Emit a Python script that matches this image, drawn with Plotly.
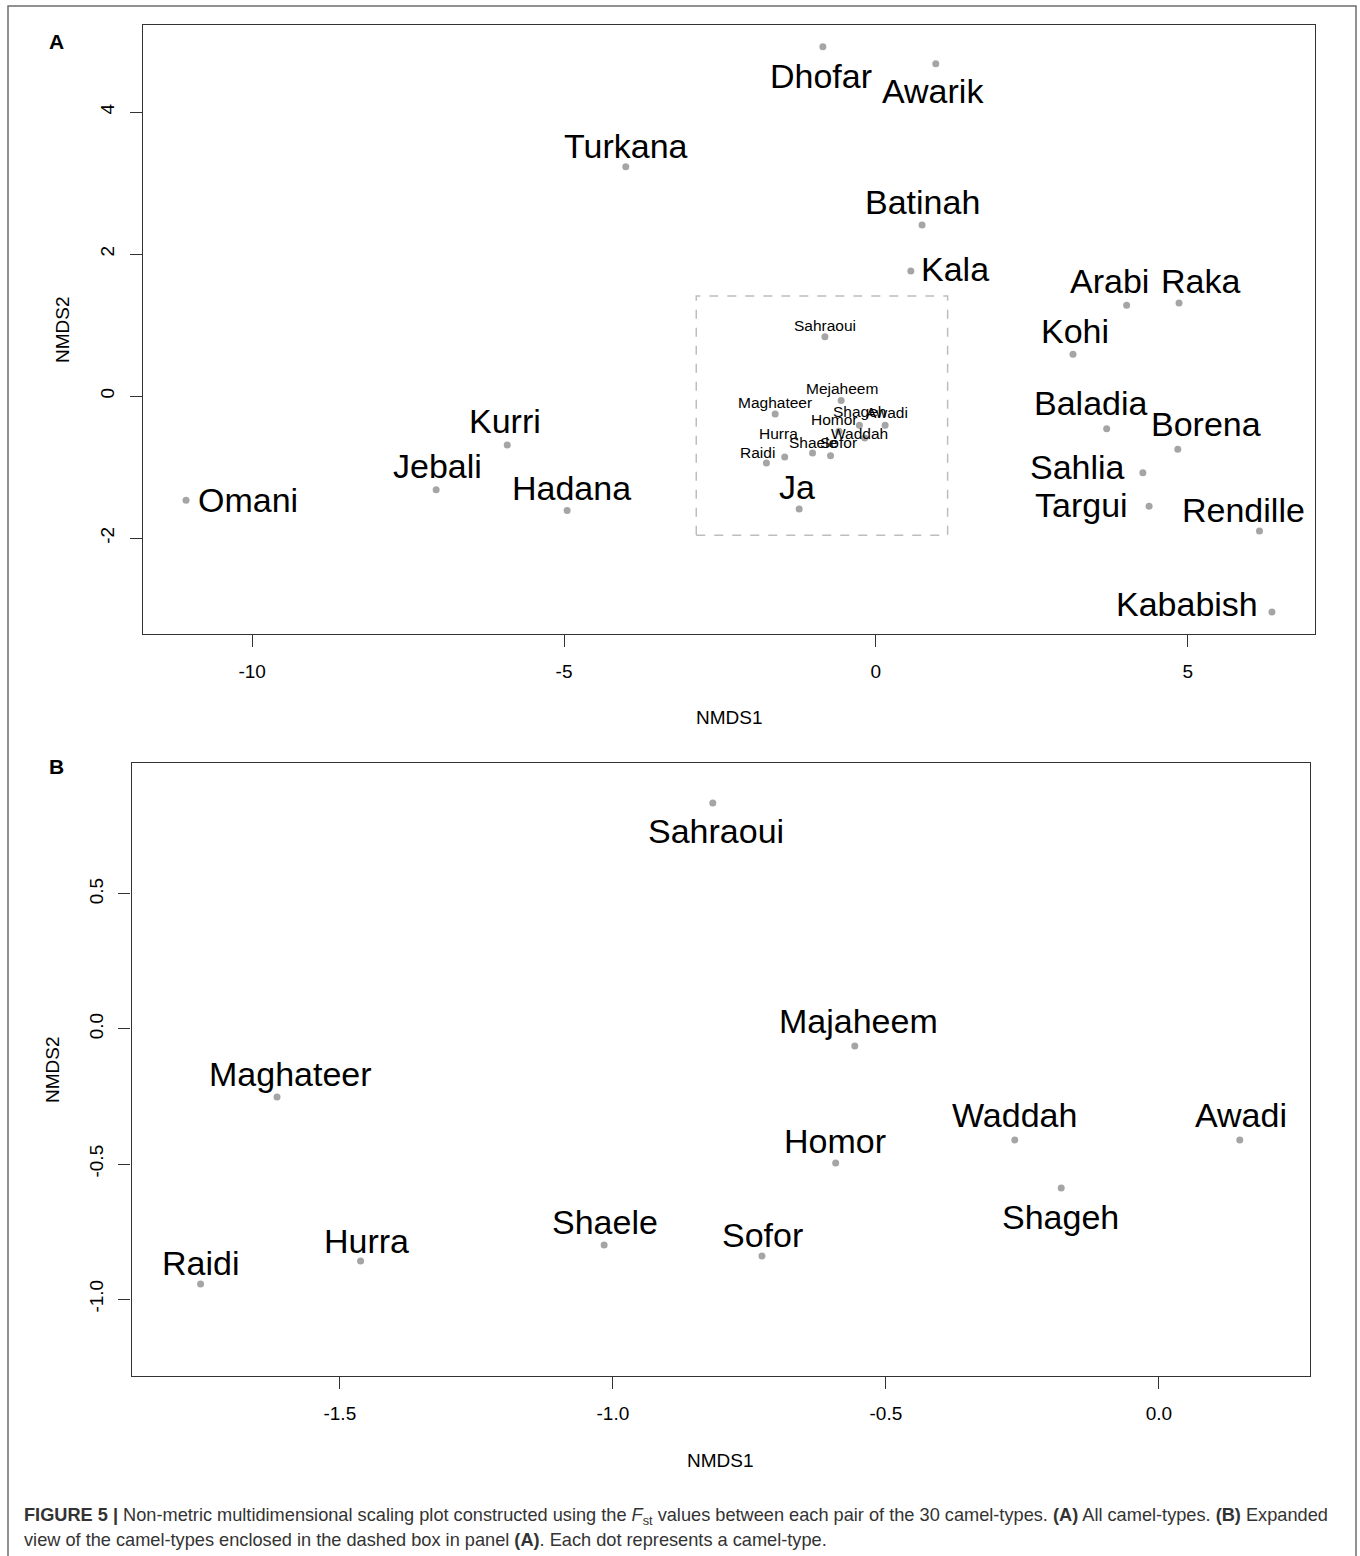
import plotly.graph_objects as go

# ---------------- DATA ----------------
# Panel A: camel-types outside the dashed box (NMDS1, NMDS2)
outer_names = ["Omani", "Jebali", "Kurri", "Hadana", "Turkana", "Dhofar", "Awarik",
               "Batinah", "Kala", "Arabi", "Raka", "Kohi", "Baladia", "Borena",
               "Sahlia", "Targui", "Rendille", "Kababish", "Ja"]
outer_x = [-11.06, -7.05, -5.91, -4.95, -4.01, -0.85, 0.96, 0.74, 0.56, 4.02, 4.86,
           3.16, 3.70, 4.84, 4.28, 4.38, 6.15, 6.35, -1.23]
outer_y = [-1.465, -1.32, -0.69, -1.61, 3.23, 4.92, 4.68, 2.41, 1.76, 1.28, 1.31,
           0.59, -0.46, -0.75, -1.08, -1.55, -1.90, -3.04, -1.59]

# Camel-types inside the dashed box (shown in both panels)
box_names_A = ["Sahraoui", "Mejaheem", "Maghateer", "Waddah", "Awadi", "Homor",
               "Shageh", "Shaele", "Sofor", "Hurra", "Raidi"]
box_names_B = ["Sahraoui", "Majaheem", "Maghateer", "Waddah", "Awadi", "Homor",
               "Shageh", "Shaele", "Sofor", "Hurra", "Raidi"]
box_x = [-0.817, -0.557, -1.615, -0.264, 0.148, -0.592, -0.179, -1.016, -0.727, -1.462, -1.755]
box_y = [0.837, -0.063, -0.252, -0.411, -0.411, -0.496, -0.589, -0.800, -0.841, -0.859, -0.944]

# Tick labels
a_xticks = [-10, -5, 0, 5]
a_xticklabels = ["-10", "-5", "0", "5"]
a_yticks = [-2, 0, 2, 4]
a_yticklabels = ["-2", "0", "2", "4"]
b_xticks = [-1.5, -1.0, -0.5, 0.0]
b_xticklabels = ["-1.5", "-1.0", "-0.5", "0.0"]
b_yticks = [-1.0, -0.5, 0.0, 0.5]
b_yticklabels = ["-1.0", "-0.5", "0.0", "0.5"]

# Dashed box extent (data units of panel A)
dash_box = [-2.88, 1.15, -1.96, 1.41]

# ---------------- LABEL PLACEMENT (pixel offsets) ----------------
outer_label_pos = [  # (xshift, yshift, xanchor)
    (11, 0, "left"), (1, 24, "center"), (-2, 24, "center"), (4, 22, "center"),
    (0, 21, "center"), (-2, -29, "center"), (-3, -27, "center"), (0, 23, "center"),
    (9, 2, "left"), (-17, 24, "center"), (21, 22, "center"), (2, 23, "center"),
    (-16, 26, "center"), (28, 25, "center"), (-17, 6, "right"), (-20, 1, "right"),
    (-16, 21, "center"), (-13, 8, "right"), (-2, 22, "center")]
box_label_pos_A = [(0, 11), (1, 12), (0, 11), (0, -8), (2, 13), (-4, 12),
                   (-5, 26), (0, 10), (8, 13), (-6, 24), (-9, 11)]
box_label_pos_B = [(3, -28), (4, 25), (13, 23), (0, 25), (1, 25), (-1, 22),
                   (-1, -29), (1, 23), (1, 21), (6, 20), (0, 21)]

W, H = 1360, 1556
FONT = "Liberation Sans, Arial, Helvetica, sans-serif"
PT_COLOR = "#a5a5a5"
AX_COLOR = "#333333"
BIG = 34


def px_x(p):
    return p / W


def px_y(p):
    return 1 - p / H


fig = go.Figure()

# Panel A points
fig.add_trace(go.Scatter(x=outer_x + box_x, y=outer_y + box_y, mode="markers",
                         marker=dict(size=7, color=PT_COLOR), xaxis="x", yaxis="y",
                         showlegend=False, hoverinfo="skip"))
# Panel B points
fig.add_trace(go.Scatter(x=box_x, y=box_y, mode="markers",
                         marker=dict(size=7, color=PT_COLOR), xaxis="x2", yaxis="y2",
                         showlegend=False, hoverinfo="skip"))

annotations = []
for n, x, y, (dx, dy, anc) in zip(outer_names, outer_x, outer_y, outer_label_pos):
    annotations.append(dict(x=x, y=y, xref="x", yref="y", text=n, showarrow=False,
                            xanchor=anc, yanchor="middle", xshift=dx, yshift=dy,
                            borderpad=0, font=dict(size=BIG, color="black", family=FONT)))
for n, x, y, (dx, dy) in zip(box_names_A, box_x, box_y, box_label_pos_A):
    annotations.append(dict(x=x, y=y, xref="x", yref="y", text=n, showarrow=False,
                            xanchor="center", yanchor="middle", xshift=dx, yshift=dy,
                            borderpad=0, font=dict(size=15.5, color="black", family=FONT)))
for n, x, y, (dx, dy) in zip(box_names_B, box_x, box_y, box_label_pos_B):
    annotations.append(dict(x=x, y=y, xref="x2", yref="y2", text=n, showarrow=False,
                            xanchor="center", yanchor="middle", xshift=dx, yshift=dy,
                            borderpad=0, font=dict(size=BIG, color="black", family=FONT)))

# Axis titles
for txt, x, y, ang in [("NMDS1", 729, 717, 0), ("NMDS2", 62, 330, -90),
                       ("NMDS1", 720, 1460, 0), ("NMDS2", 52, 1070, -90)]:
    annotations.append(dict(x=px_x(x), y=px_y(y), xref="paper", yref="paper", text=txt,
                            showarrow=False, xanchor="center", yanchor="middle",
                            textangle=ang, font=dict(size=19, color="black", family=FONT)))

# Panel letters
for txt, x, y in [("A", 57, 41), ("B", 56, 766)]:
    annotations.append(dict(x=px_x(x), y=px_y(y), xref="paper", yref="paper",
                            text="<b>" + txt + "</b>", showarrow=False,
                            xanchor="center", yanchor="middle",
                            font=dict(size=21, color="black", family=FONT)))

# Caption
cap1 = ("<b>FIGURE 5 |</b> Non-metric multidimensional scaling plot constructed using the "
        "<i>F</i><sub>st</sub> values between each pair of the 30 camel-types. "
        "<b>(A)</b> All camel-types. <b>(B)</b> Expanded")
cap2 = ("view of the camel-types enclosed in the dashed box in panel <b>(A)</b>. "
        "Each dot represents a camel-type.")
for txt, y in [(cap1, 1516), (cap2, 1540)]:
    annotations.append(dict(x=px_x(22), y=px_y(y), xref="paper", yref="paper", text=txt,
                            showarrow=False, xanchor="left", yanchor="middle",
                            font=dict(size=18.2, color="#333333", family=FONT)))

shapes = [
    # dashed box in panel A
    dict(type="rect", xref="x", yref="y", x0=dash_box[0], x1=dash_box[1],
         y0=dash_box[2], y1=dash_box[3], line=dict(color="#bdbdbd", width=1.5, dash="dash")),
    # outer figure border
    dict(type="rect", xref="paper", yref="paper", x0=px_x(8), x1=px_x(1356),
         y0=-0.02, y1=px_y(6), line=dict(color="#6e6e6e", width=1.5)),
]

axis_common = dict(showgrid=False, zeroline=False, showline=True, mirror=True,
                   linecolor=AX_COLOR, linewidth=1.3, ticks="outside", ticklen=12,
                   tickcolor=AX_COLOR, tickwidth=1.3, tickmode="array",
                   tickfont=dict(size=19, color="black", family=FONT))

fig.update_layout(
    width=W, height=H, margin=dict(l=0, r=0, t=0, b=0),
    paper_bgcolor="white", plot_bgcolor="white",
    font=dict(family=FONT),
    xaxis=dict(domain=[px_x(143), px_x(1315)], range=[-11.75, 7.04], anchor="y",
               tickvals=a_xticks, ticktext=a_xticklabels, ticklabelstandoff=8,
               **axis_common),
    yaxis=dict(domain=[px_y(634), px_y(25)], range=[-3.35, 5.225], anchor="x",
               tickvals=a_yticks, ticktext=a_yticklabels, tickangle=-90,
               ticklabelstandoff=8, **axis_common),
    xaxis2=dict(domain=[px_x(131.5), px_x(1310)], range=[-1.8815, 0.2766], anchor="y2",
                tickvals=b_xticks, ticktext=b_xticklabels, ticklabelstandoff=8,
                **axis_common),
    yaxis2=dict(domain=[px_y(1376), px_y(763)], range=[-1.285, 0.985], anchor="x2",
                tickvals=b_yticks, ticktext=b_yticklabels, tickangle=-90,
                ticklabelstandoff=8, **axis_common),
    annotations=annotations,
    shapes=shapes,
)

fig.write_html("out.html", config={"displayModeBar": False},
               post_script="document.body.style.margin='0';document.body.style.padding='0';")
